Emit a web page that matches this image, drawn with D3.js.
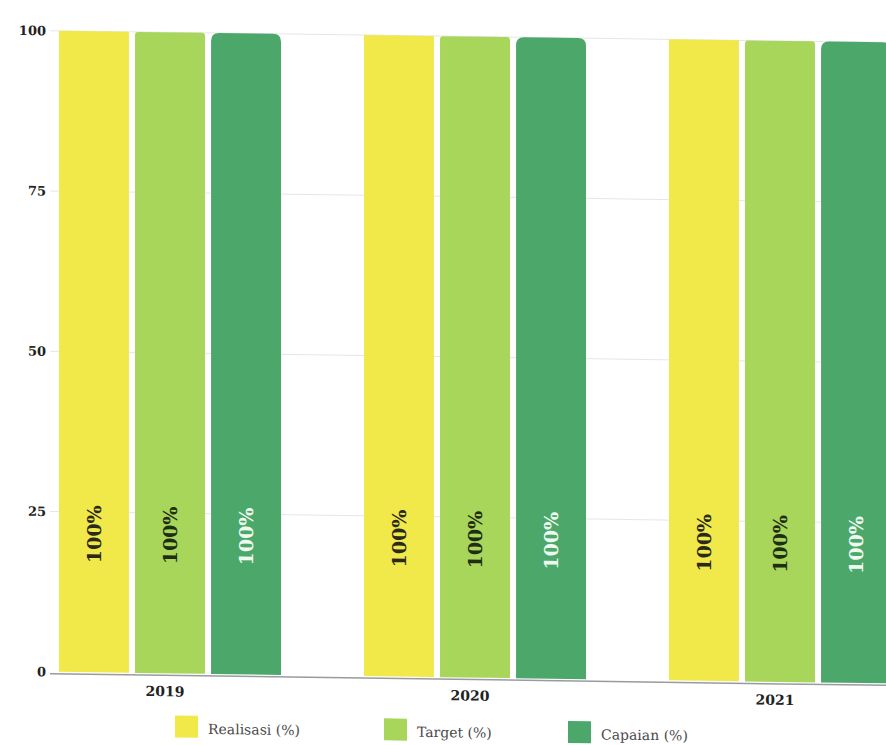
<!DOCTYPE html>
<html>
<head>
<meta charset="utf-8">
<script src="https://cdn.jsdelivr.net/npm/d3@7"></script>
<style>
  html, body { margin: 0; padding: 0; background: #fff; }
  svg { display: block; }
</style>
</head>
<body>
<svg id="chart" width="886" height="745"></svg>
<script>
// Chart data
const years = ["2019", "2020", "2021"];
const seriesNames = ["Realisasi (%)", "Target (%)", "Capaian (%)"];
const realisasi = [100, 100, 100];
const target = [100, 100, 100];
const capaian = [100, 100, 100];
const yTicks = [0, 25, 50, 75, 100];

const seriesValues = [realisasi, target, capaian];
const colors = ["#f1e84a", "#a8d65a", "#4ca76a"];
const labelColors = ["#2a2a1a", "#1f2d12", "#eefaf0"];
const topRadius = [0, 3, 8];
const serif = "'DejaVu Serif', 'Liberation Serif', serif";

const svg = d3.select("#chart");
// The printed page sits slightly tilted
const g = svg.append("g").attr("transform", "skewY(0.8)");

const y = d3.scaleLinear().domain([0, 100]).range([671, 30]);

const x0 = d3.scaleBand()
  .domain(years)
  .range([17.5, 932.5])
  .paddingInner(0.272)
  .paddingOuter(0.136);

const x1 = d3.scaleBand()
  .domain(d3.range(seriesNames.length))
  .range([0, x0.bandwidth()])
  .paddingInner(0.08);

// Grid lines
g.append("g")
  .selectAll("line")
  .data(yTicks.filter(d => d > 0))
  .join("line")
  .attr("x1", 50).attr("x2", 886)
  .attr("y1", d => y(d)).attr("y2", d => y(d))
  .attr("stroke", "#e6e6ea").attr("stroke-width", 1);

// Baseline
g.append("line")
  .attr("x1", 50).attr("x2", 886)
  .attr("y1", y(0) + 2).attr("y2", y(0) + 2)
  .attr("stroke", "#9a9aa2").attr("stroke-width", 1.5);

// Y axis (labels only)
const yAxis = d3.axisLeft(y).tickValues(yTicks).tickSize(0).tickPadding(0);
const yg = g.append("g").attr("transform", "translate(46,0)").call(yAxis);
yg.select(".domain").remove();
yg.selectAll("text")
  .attr("font-family", serif)
  .attr("font-weight", "bold")
  .attr("font-size", 13)
  .attr("fill", "#222");

// Bars with optional rounded top corners
function barPath(x, yTop, w, h, r) {
  r = Math.min(r, w / 2, h);
  return `M${x},${yTop + h}` +
    `V${yTop + r}` +
    (r ? `Q${x},${yTop} ${x + r},${yTop}` : "") +
    `H${x + w - r}` +
    (r ? `Q${x + w},${yTop} ${x + w},${yTop + r}` : "") +
    `V${yTop + h}Z`;
}

const barData = [];
years.forEach((yr, i) => {
  seriesValues.forEach((vals, s) => {
    barData.push({ year: yr, s, value: vals[i] });
  });
});

const bars = g.append("g");
bars.selectAll("path")
  .data(barData)
  .join("path")
  .attr("d", d => {
    const bx = x0(d.year) + x1(d.s);
    return barPath(bx, y(d.value), x1.bandwidth(), y(0) - y(d.value), topRadius[d.s]);
  })
  .attr("fill", d => colors[d.s]);

// Value labels, rotated inside each bar
bars.selectAll("text")
  .data(barData)
  .join("text")
  .attr("transform", d => {
    const cx = x0(d.year) + x1(d.s) + x1.bandwidth() / 2;
    return `translate(${cx},${y(0) - 138}) rotate(-90)`;
  })
  .attr("text-anchor", "middle")
  .attr("dominant-baseline", "central")
  .attr("font-family", serif)
  .attr("font-weight", "bold")
  .attr("font-size", 19)
  .attr("fill", d => labelColors[d.s])
  .text(d => d.value + "%");

// Category axis labels
const xAxis = d3.axisBottom(x0).tickSize(0).tickPadding(0);
const xg = g.append("g").attr("transform", `translate(-5,${y(0) + 13})`).call(xAxis);
xg.select(".domain").remove();
xg.selectAll("text")
  .attr("font-family", serif)
  .attr("font-weight", "bold")
  .attr("font-size", 14)
  .attr("fill", "#222");

// Legend
const legendX = [175, 384, 568];
const legend = g.append("g").attr("transform", "translate(0,713)");
const items = legend.selectAll("g")
  .data(seriesNames)
  .join("g")
  .attr("transform", (d, i) => `translate(${legendX[i]},0)`);
items.append("rect")
  .attr("width", 23).attr("height", 22)
  .attr("fill", (d, i) => colors[i]);
items.append("text")
  .attr("x", 33).attr("y", 18)
  .attr("font-family", serif)
  .attr("font-size", 14)
  .attr("fill", "#4a4a4a")
  .text(d => d);
</script>
</body>
</html>
